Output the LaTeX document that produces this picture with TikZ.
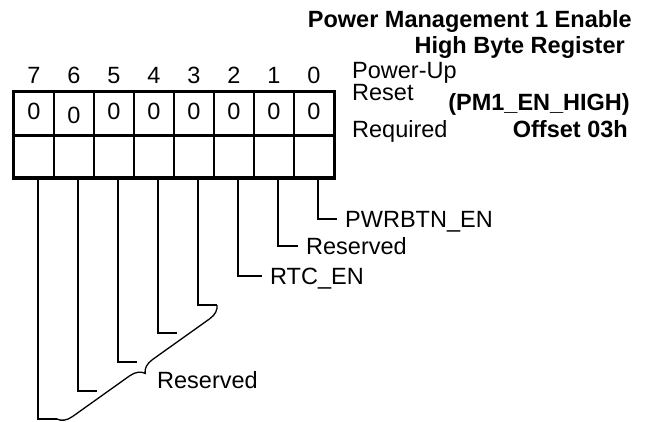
\documentclass[tikz,border=0pt]{standalone}
\usepackage{fontspec}
\setmainfont{Liberation Sans}
\usetikzlibrary{positioning, decorations.pathreplacing}

\tikzset{
    bitcell/.style={draw, line width=1.2pt, minimum width=40pt, minimum height=42.5pt, inner sep=0pt},
    leader/.style={line width=1.3pt},
    fieldname/.style={inner sep=0pt, text height=16pt, text depth=0pt, anchor=west},
    heading/.style={inner sep=0pt, anchor=base east, font=\fontsize{23.5}{28}\selectfont\bfseries},
}

\begin{document}
\begin{tikzpicture}[x=1pt, y=-1pt, font=\fontsize{23.5}{28}\selectfont, every node/.append style={inner sep=0pt}]
    \useasboundingbox (0,0) rectangle (646,421);

    % Register title
    \node[heading] (title1) at (632,27) {Power Management 1 Enable};
    \node[heading] (title2) at (625,53) {High Byte Register};
    \node[heading] (regname) at (630,110) {(PM1\_EN\_HIGH)};
    \node[heading] (offset) at (628,137) {Offset 03h};

    % Row captions
    \node[anchor=base west] (pwrup) at (352,78) {Power-Up};
    \node[anchor=base west] (reset) at (352,100) {Reset};
    \node[anchor=base west] (reqd) at (352,137) {Required};

    % Bit cells
    \foreach \b/\zy in {0/119,1/119,2/119,3/119,4/119,5/119,6/123,7/119} {
        \node[bitcell] (v\b) at ({314-40*\b},113.5) {};
        \node[bitcell] (r\b) at ({314-40*\b},156) {};
        \node[anchor=base] (n\b) at ({314-40*\b},83) {\b};
        \node[anchor=base] (z\b) at ({314-40*\b},\zy) {0};
    }
    \draw[line width=3.5pt] (v7.north west) rectangle (r0.south east);
    \draw[line width=3pt] (v7.south west) -- (v0.south east);

    % Named bits
    \node[fieldname] (pwrbtn) at (345,219) {PWRBTN\_EN};
    \node[fieldname] (rsvd1) at (306,246) {Reserved};
    \node[fieldname] (rtc) at (270,276) {RTC\_EN};
    \draw[leader] ([xshift=4pt]r0.south) |- ([xshift=-8pt]pwrbtn.west);
    \draw[leader] ([xshift=4pt]r1.south) |- ([xshift=-8pt]rsvd1.west);
    \draw[leader] ([xshift=4pt]r2.south) |- ([xshift=-8pt]rtc.west);

    % Reserved bits 3 to 7
    \foreach \b/\sy in {3/305,4/333,5/362,6/391,7/419} {
        \coordinate (s\b) at ({337-40*\b},\sy);
        \draw[leader] ([xshift=4pt]r\b.south) |- (s\b);
    }
    \draw[leader, decorate, decoration={brace, amplitude=14pt}] (s3) -- (s7);
    \node[anchor=base west] (rsvd2) at (157,388) {Reserved};
\end{tikzpicture}
\end{document}
